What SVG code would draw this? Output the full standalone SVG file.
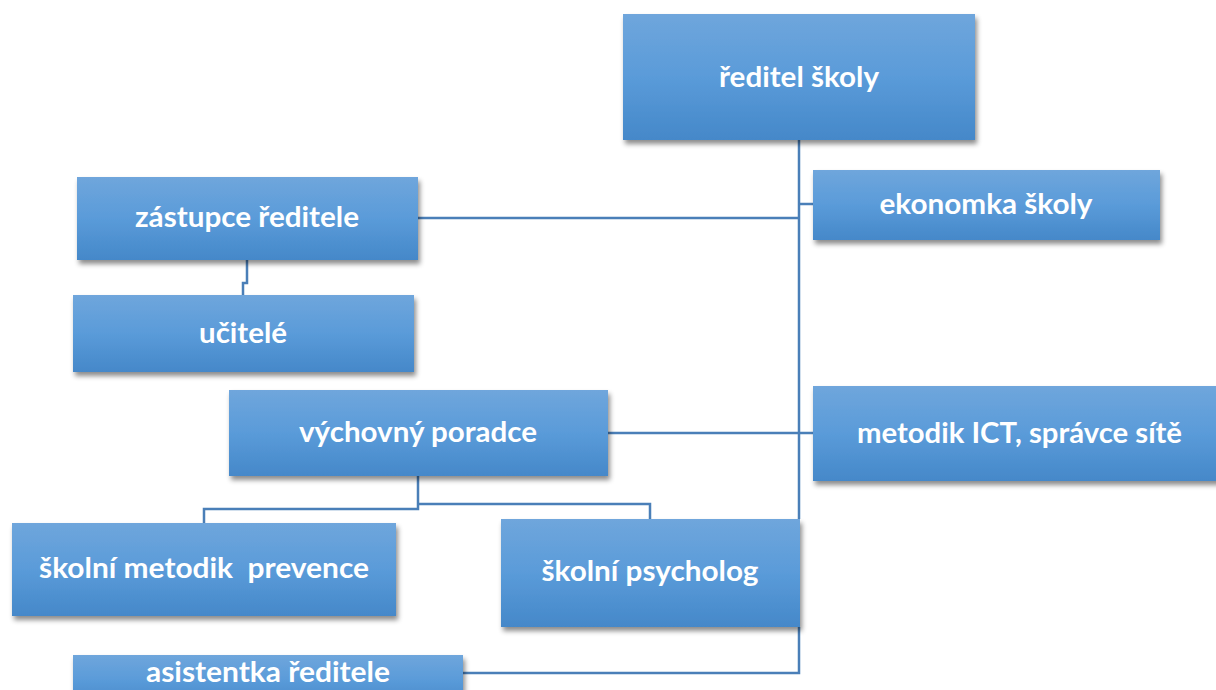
<svg xmlns="http://www.w3.org/2000/svg" width="1216" height="690" viewBox="0 0 1216 690">
<defs>
<linearGradient id="g" x1="0" y1="0" x2="0" y2="1">
<stop offset="0" stop-color="#6fa6dc"/>
<stop offset="0.5" stop-color="#5a9bd9"/>
<stop offset="1" stop-color="#4588c9"/>
</linearGradient>
<filter id="sh" x="-10%" y="-10%" width="125%" height="140%">
<feDropShadow dx="2" dy="4" stdDeviation="2.5" flood-color="#000" flood-opacity="0.45"/>
</filter>
</defs>
<style>
.box{fill:url(#g);filter:url(#sh);}
.t{font-family:Lato,"Open Sans","Liberation Sans",sans-serif;font-weight:bold;font-size:28.5px;fill:#fff;text-anchor:middle;}
.c{fill:none;stroke:#4a7fb8;stroke-width:2.5;}
</style>
<g id="connectors">
<path class="c" d="M799 140 V519"/>
<path class="c" d="M799 627 V673 H463"/>
<path class="c" d="M799 204 H813"/>
<path class="c" d="M418 218 H799"/>
<path class="c" d="M608 433 H813"/>
<path class="c" d="M247 260 V283 H243 V295"/>
<path class="c" d="M418 476 V509 H204 V523"/>
<path class="c" d="M418 504 H650 V519"/>
</g>
<g id="n-reditel"><rect class="box" x="623" y="14" width="352" height="126"/><text class="t" x="799" y="87" textLength="160" lengthAdjust="spacingAndGlyphs">ředitel školy</text></g>
<g id="n-ekonomka"><rect class="box" x="813" y="170" width="347" height="70"/><text class="t" x="986" y="214" textLength="213" lengthAdjust="spacingAndGlyphs">ekonomka školy</text></g>
<g id="n-zastupce"><rect class="box" x="77" y="177" width="341" height="83"/><text class="t" x="247" y="227" textLength="224" lengthAdjust="spacingAndGlyphs">zástupce ředitele</text></g>
<g id="n-ucitele"><rect class="box" x="73" y="295" width="341" height="77"/><text class="t" x="243" y="343" textLength="88" lengthAdjust="spacingAndGlyphs">učitelé</text></g>
<g id="n-vychovny"><rect class="box" x="229" y="390" width="379" height="86"/><text class="t" x="418" y="442" textLength="238" lengthAdjust="spacingAndGlyphs">výchovný poradce</text></g>
<g id="n-ict"><rect class="box" x="813" y="386" width="413" height="95"/><text class="t" x="1019.5" y="443" textLength="325" lengthAdjust="spacingAndGlyphs">metodik ICT, správce sítě</text></g>
<g id="n-prevence"><rect class="box" x="12" y="523" width="384" height="93"/><text class="t" x="204" y="578" textLength="330" lengthAdjust="spacingAndGlyphs" xml:space="preserve">školní metodik  prevence</text></g>
<g id="n-psycholog"><rect class="box" x="501" y="519" width="299" height="108"/><text class="t" x="650" y="581" textLength="217" lengthAdjust="spacingAndGlyphs">školní psycholog</text></g>
<g id="n-asistentka"><rect class="box" x="73" y="655" width="390" height="50"/><text class="t" x="268" y="682" textLength="244" lengthAdjust="spacingAndGlyphs">asistentka ředitele</text></g>
</svg>
